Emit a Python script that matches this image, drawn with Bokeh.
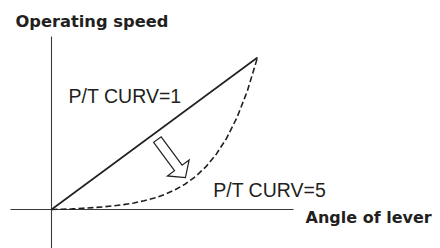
import math
from bokeh.plotting import figure
from bokeh.models import Range1d
from bokeh.core.properties import value
from bokeh.embed import file_html
from bokeh.resources import INLINE

# ---- data (chart units: origin = 0, top of lines = 10) ----
line1_x = [0, 10]
line1_y = [0, 10]

curve5_x = [0, 0.5, 1, 1.5, 2, 2.5, 3, 3.5, 4, 4.5, 5, 5.5, 6, 6.5, 7, 7.5, 8, 8.5, 9, 9.5, 10]
curve5_y = [0, 0.02, 0.04, 0.08, 0.12, 0.17, 0.24, 0.32, 0.43, 0.58, 0.76, 0.99, 1.3, 1.68,
            2.18, 2.82, 3.64, 4.69, 6.04, 7.77, 10]

xaxis_x = [-1.99, 11.75]
yaxis_y = [-2.7, 11.38]

arrow_tail = (5.14, 4.6)
arrow_tip = (6.5, 2.1)

title_text = ["Operating speed"]
title_xy = ([-1.75], [12.34])
xlabel_text = ["Angle of lever"]
xlabel_xy = ([12.33], [-0.52])
curve_labels = ["P/T CURV=1", "P/T CURV=5"]
curve_label_x = [0.83, 7.85]
curve_label_y = [7.48, 1.29]

# ---- figure ----
W, H = 440, 248
x0, x1 = -2.476, 18.883
y0, y1 = -2.566, 13.75
p = figure(width=W, height=H, x_range=Range1d(x0, x1), y_range=Range1d(y0, y1),
           output_backend="svg", toolbar_location=None, min_border=0,
           x_axis_type=None, y_axis_type=None)
p.grid.visible = False
p.outline_line_color = None
p.background_fill_color = "white"

ink = "#231f20"
axis_col = "#3a3a3a"

# axes
p.line(x=xaxis_x, y=[0, 0], line_color=axis_col, line_width=1.1)
p.line(x=[0, 0], y=yaxis_y, line_color=axis_col, line_width=1.1)

# curves
p.line(x=line1_x, y=line1_y, line_color=ink, line_width=1.6)
p.line(x=curve5_x, y=curve5_y, line_color=ink, line_width=1.6, line_dash="6 3")

# hollow block arrow (built in pixel space, then mapped back)
sx = W / (x1 - x0)
sy = H / (y1 - y0)
tx, ty = arrow_tail[0] * sx, arrow_tail[1] * sy
hx, hy = arrow_tip[0] * sx, arrow_tip[1] * sy
L = math.hypot(hx - tx, hy - ty)
dx, dy = (hx - tx) / L, (hy - ty) / L
nx, ny = -dy, dx
w, hw, hl = 4.7, 13.5, 12.0
bx, by = hx - dx * hl, hy - dy * hl
pts = [
    (tx + nx * w, ty + ny * w),
    (bx + nx * w, by + ny * w),
    (bx + nx * hw, by + ny * hw),
    (hx, hy),
    (bx - nx * hw, by - ny * hw),
    (bx - nx * w, by - ny * w),
    (tx - nx * w, ty - ny * w),
]
p.patch(x=[q[0] / sx for q in pts], y=[q[1] / sy for q in pts],
        fill_color="white", line_color=ink, line_width=1.2, line_join="miter")

# texts
p.text(x=title_xy[0], y=title_xy[1], text=title_text, text_font=value("DejaVu Sans"),
       text_font_style="bold", text_font_size="16.3px", text_color=ink,
       text_baseline="alphabetic", text_align="left")
p.text(x=xlabel_xy[0], y=xlabel_xy[1], text=xlabel_text, text_font=value("DejaVu Sans"),
       text_font_style="bold", text_font_size="16px", text_color=ink,
       text_baseline="alphabetic", text_align="left")
p.text(x=curve_label_x, y=curve_label_y, text=curve_labels, text_font=value("Liberation Sans"),
       text_font_size="19.5px", text_color=ink,
       text_baseline="alphabetic", text_align="left")

open("out.html", "w").write(file_html(p, INLINE))
